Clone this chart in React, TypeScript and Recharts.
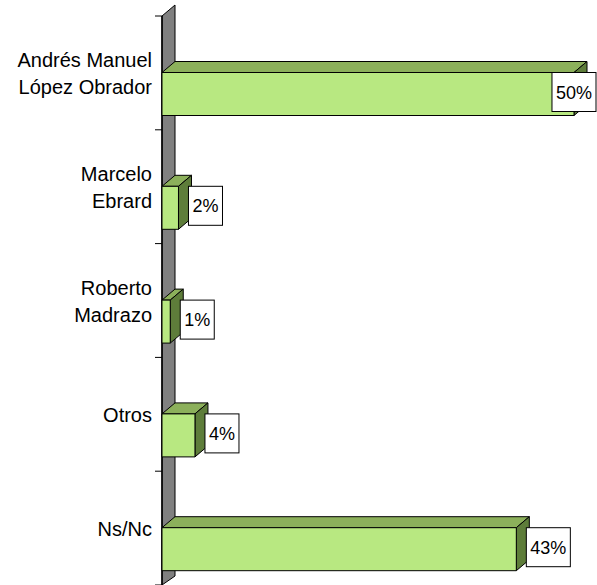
import React from "react";
import * as Recharts from "recharts";
import { BarChart, Bar, XAxis, YAxis, Customized, LabelList } from "recharts";

// Intención de voto — porcentaje por candidato
const candidates = [
  "Andrés Manuel\nLópez Obrador",
  "Marcelo\nEbrard",
  "Roberto\nMadrazo",
  "Otros",
  "Ns/Nc",
];
const shares = [50, 2, 1, 4, 43];

const data = candidates.map((name, i) => ({ name, value: shares[i] }));

const FONT = "'Liberation Sans', Arial, sans-serif";
const W = 597;
const H = 585;
const MARGIN = { top: 16, right: 23, bottom: 0, left: 0 };
const AXIS_W = 162;
const DX = 13;
const DY = -11;
const BAR = 43;

const FRONT = "#b8e881";
const TOP = "#8cb05b";
const SIDE = "#5e7d3a";

const usePlotAreaSafe: () => any = (Recharts as any).usePlotArea ?? (() => null);

function Wall() {
  const pa = usePlotAreaSafe();
  const x = pa?.x ?? AXIS_W;
  const y = pa?.y ?? MARGIN.top;
  const h = pa?.height ?? H - MARGIN.top - MARGIN.bottom;
  const bottom = y + h;
  const n = candidates.length;
  const ticks = Array.from({ length: n + 1 }, (_, i) => y + (i * h) / n);
  return (
    <g>
      <polygon
        points={`${x},${y} ${x + DX},${y + DY} ${x + DX},${bottom + DY + 2} ${x},${bottom}`}
        fill="#808080"
        stroke="#000"
        strokeWidth={1}
      />
      <line x1={x} y1={y} x2={x} y2={bottom} stroke="#000" strokeWidth={1.5} />
      {ticks.map((t, i) => (
        <line key={i} x1={x - 7} y1={t} x2={x} y2={t} stroke="#000" strokeWidth={1} />
      ))}
    </g>
  );
}

function Box3D(props: any) {
  const { x, y, width, height } = props;
  const top = y + height / 2;
  const l = x;
  const r = x + width;
  const b = top + BAR;
  return (
    <g stroke="#000" strokeWidth={1} strokeLinejoin="round">
      <polygon points={`${l},${top} ${l + DX},${top + DY} ${r + DX},${top + DY} ${r},${top}`} fill={TOP} />
      <polygon points={`${r},${top} ${r + DX},${top + DY} ${r + DX},${b + DY} ${r},${b}`} fill={SIDE} />
      <rect x={l} y={top} width={width} height={BAR} fill={FRONT} />
    </g>
  );
}

function ValueBox(props: any) {
  const { x, y, width, height, value } = props;
  const text = `${value}%`;
  const digits = String(value).length;
  const tw = 18 * (0.556 * digits + 0.889);
  const bw = tw + 8;
  const cy = y + height / 2 + BAR / 2 - 2;
  let left = x + width + 10;
  if (left > W - bw - 1) left = W - bw - 1;
  return (
    <g>
      <rect x={left} y={cy - 19.5} width={bw} height={39} fill="#fff" stroke="#000" strokeWidth={1} />
      <text x={left + bw / 2} y={cy + 6.5} textAnchor="middle" fontFamily={FONT} fontSize={18} fill="#000">
        {text}
      </text>
    </g>
  );
}

function CategoryTick(props: any) {
  const { y, payload } = props;
  const lines = String(payload.value).split("\n");
  const x = AXIS_W - 10;
  const first = lines.length === 1 ? y + 7.5 : y - 6;
  return (
    <text x={x} y={first} textAnchor="end" fontFamily={FONT} fontSize={20} fill="#000">
      {lines.map((ln, i) => (
        <tspan key={i} x={x} y={first + i * 27.5}>
          {ln}
        </tspan>
      ))}
    </text>
  );
}

export default function App() {
  return (
    <div style={{ position: "absolute", left: 0, top: 0, width: W, height: H, background: "#fff" }}>
      <BarChart width={W} height={H} data={data} layout="vertical" margin={MARGIN} barSize={BAR}>
        <Customized component={<Wall />} />
        <XAxis type="number" domain={[0, 50]} hide />
        <YAxis
          type="category"
          dataKey="name"
          width={AXIS_W}
          axisLine={false}
          tickLine={false}
          tick={<CategoryTick />}
          interval={0}
        />
        <Bar dataKey="value" shape={<Box3D />} isAnimationActive={false}>
          <LabelList dataKey="value" content={<ValueBox />} />
        </Bar>
      </BarChart>
    </div>
  );
}
